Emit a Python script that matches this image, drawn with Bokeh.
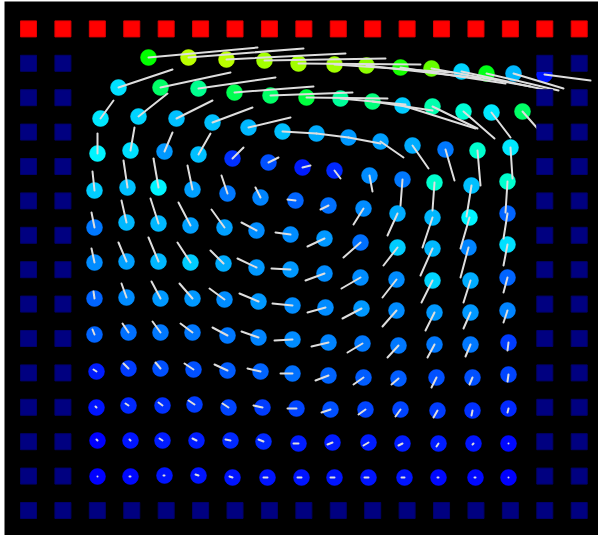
import colorsys
from bokeh.plotting import figure
from bokeh.models import Range1d, ColumnDataSource, LinearColorMapper
from bokeh.transform import transform
from bokeh.embed import file_html
from bokeh.resources import INLINE

# ---- lattice of boundary particles (index units) ----
n_cols = 17          # lattice columns 0..16
n_rows = 15          # lattice rows 0..14 (row 14 = moving lid)
spacing_x = 34.42
spacing_y = 34.4
wall_cols = [0, 1, 15, 16]   # side walls (two layers each)
floor_rows = [0]             # bottom wall
lid_row = 14

# ---- fluid particles: position (x, y), velocity segment end (x_end, y_end), speed ----
x = [
    120, 160, 198, 236, 270, 306, 338, 372, 403, 433, 458, 485, 516,
    90, 132, 170, 206, 242, 278, 312, 344, 374, 404, 435, 463, 494,
    72, 110, 148, 184, 220, 254, 288, 320, 352, 384, 417, 449, 482,
    69, 102, 136, 170, 204, 240, 274, 306, 341, 374, 406, 443, 479,
    66, 99, 130, 164, 199, 232, 267, 300, 335, 369, 404, 441, 479,
    66, 98, 130, 162, 196, 228, 262, 296, 332, 369, 404, 440, 479,
    66, 98, 130, 162, 195, 228, 262, 296, 332, 368, 404, 442, 479,
    66, 98, 132, 164, 196, 230, 264, 297, 333, 368, 406, 442, 479,
    66, 100, 132, 164, 199, 230, 264, 300, 334, 370, 406, 442, 480,
    68, 100, 132, 165, 199, 232, 264, 300, 335, 370, 408, 444, 480,
    68, 100, 134, 166, 200, 234, 268, 302, 337, 372, 409, 444, 480,
    69, 102, 134, 168, 202, 235, 270, 304, 340, 374, 410, 445, 480,
    69, 102, 136, 170, 204, 239, 273, 306, 340, 376, 410, 447, 480,
]
y = [
    453, 453, 451, 450, 447, 446, 445, 443, 442, 439, 437, 437, 436,
    423, 423, 422, 418, 415, 413, 412, 409, 405, 404, 399, 398, 399,
    392, 394, 392, 388, 383, 379, 377, 373, 369, 365, 361, 360, 363,
    357, 360, 359, 356, 352, 348, 343, 340, 335, 331, 328, 325, 329,
    320, 323, 323, 321, 317, 313, 310, 305, 302, 297, 293, 293, 297,
    283, 288, 287, 285, 283, 280, 276, 272, 268, 263, 262, 263, 266,
    248, 249, 249, 248, 247, 243, 241, 237, 233, 231, 230, 230, 233,
    212, 213, 212, 212, 211, 209, 205, 203, 202, 200, 198, 198, 200,
    176, 178, 178, 178, 175, 173, 171, 168, 167, 165, 166, 166, 168,
    139, 142, 142, 141, 140, 139, 137, 135, 133, 132, 133, 133, 136,
    103, 105, 105, 106, 103, 103, 102, 101, 101, 101, 100, 100, 102,
    70, 70, 70, 70, 70, 69, 67, 68, 68, 67, 67, 67, 67,
    34, 34, 35, 35, 33, 33, 33, 33, 33, 33, 33, 33, 33,
]
x_end = [
    229, 275, 317, 357, 392, 424, 452, 477, 502, 520, 530, 535, 562,
    144, 202, 247, 285, 324, 359, 377, 404, 447, 449, 466, 482, 509,
    85, 139, 184, 224, 262, 288, 320, 352, 375, 400, 426, 452, 484,
    69, 106, 144, 182, 215, 250, 282, 312, 344, 372, 404, 438, 477,
    64, 95, 125, 159, 193, 227, 259, 292, 325, 359, 394, 432, 475,
    63, 93, 122, 150, 183, 213, 247, 279, 315, 355, 392, 432, 475,
    63, 90, 120, 149, 182, 209, 243, 277, 313, 354, 393, 435, 475,
    65, 93, 123, 151, 181, 211, 244, 279, 314, 354, 397, 435, 475,
    64, 94, 124, 152, 184, 213, 246, 283, 319, 359, 399, 437, 479,
    65, 95, 127, 156, 186, 219, 252, 287, 325, 363, 403, 441, 479,
    67, 97, 130, 160, 194, 225, 259, 293, 330, 367, 405, 443, 479,
    68, 101, 131, 164, 197, 230, 265, 299, 335, 370, 408, 444, 480,
    69, 101, 135, 167, 201, 235, 269, 302, 336, 373, 409, 446, 480,
]
y_end = [
    463, 462, 457, 452, 446, 438, 432, 427, 424, 420, 420, 422, 430,
    441, 438, 433, 424, 418, 412, 406, 400, 382, 382, 372, 373, 382,
    410, 417, 410, 403, 393, 377, 373, 367, 353, 342, 330, 325, 332,
    377, 383, 378, 377, 363, 353, 345, 332, 319, 305, 300, 294, 298,
    339, 350, 352, 345, 335, 323, 311, 301, 286, 275, 263, 262, 272,
    298, 310, 312, 308, 301, 288, 278, 264, 253, 245, 235, 233, 245,
    262, 268, 273, 268, 260, 252, 242, 230, 222, 213, 208, 208, 218,
    219, 227, 229, 227, 222, 217, 207, 198, 192, 184, 180, 182, 188,
    181, 187, 189, 187, 183, 179, 170, 164, 158, 153, 153, 154, 160,
    141, 147, 148, 147, 146, 142, 137, 130, 126, 126, 123, 126, 129,
    104, 107, 108, 110, 107, 105, 102, 98, 96, 94, 93, 95, 98,
    71, 71, 72, 72, 71, 71, 67, 66, 65, 65, 64, 66, 67,
    34, 34, 35, 36, 34, 33, 33, 33, 33, 33, 33, 33, 33,
]
speed = [
    0.50, 0.68, 0.68, 0.66, 0.66, 0.66, 0.64, 0.52, 0.60, 0.21, 0.48, 0.18, 0.02,
    0.22, 0.40, 0.36, 0.42, 0.40, 0.44, 0.35, 0.38, 0.20, 0.33, 0.29, 0.23, 0.40,
    0.23, 0.21, 0.19, 0.19, 0.18, 0.19, 0.17, 0.15, 0.16, 0.17, 0.12, 0.30, 0.23,
    0.24, 0.22, 0.15, 0.19, 0.05, 0.08, 0.03, 0.04, 0.14, 0.12, 0.30, 0.19, 0.30,
    0.20, 0.19, 0.24, 0.16, 0.12, 0.13, 0.10, 0.11, 0.14, 0.17, 0.18, 0.24, 0.10,
    0.12, 0.18, 0.18, 0.16, 0.16, 0.14, 0.14, 0.15, 0.11, 0.20, 0.18, 0.13, 0.22,
    0.14, 0.16, 0.18, 0.20, 0.17, 0.15, 0.15, 0.14, 0.14, 0.14, 0.21, 0.17, 0.10,
    0.10, 0.14, 0.15, 0.15, 0.14, 0.15, 0.14, 0.14, 0.15, 0.14, 0.15, 0.15, 0.13,
    0.10, 0.11, 0.12, 0.12, 0.12, 0.13, 0.14, 0.13, 0.12, 0.12, 0.12, 0.12, 0.06,
    0.03, 0.06, 0.08, 0.08, 0.09, 0.10, 0.11, 0.10, 0.09, 0.09, 0.08, 0.08, 0.07,
    0.02, 0.04, 0.05, 0.06, 0.07, 0.06, 0.07, 0.08, 0.07, 0.07, 0.06, 0.05, 0.04,
    0.00, 0.02, 0.03, 0.03, 0.04, 0.04, 0.03, 0.03, 0.03, 0.03, 0.03, 0.02, 0.01,
    0.00, 0.01, 0.02, 0.02, 0.02, 0.02, 0.02, 0.02, 0.02, 0.02, 0.01, 0.01, 0.00,
]

# ---- colour map: hue ramp blue -> cyan -> green -> yellow -> red ----
palette = []
for k in range(256):
    h = (240.0 - 240.0 * k / 255.0) / 360.0
    r, g, b = colorsys.hsv_to_rgb(h, 1.0, 1.0)
    palette.append("#%02x%02x%02x" % (int(round(r * 255)), int(round(g * 255)), int(round(b * 255))))
mapper = LinearColorMapper(palette=palette, low=0.0, high=1.0)

# ---- boundary particles ----
wall_x, wall_y = [], []
for j in range(n_rows - 1):
    for i in wall_cols:
        wall_x.append(i * spacing_x)
        wall_y.append(j * spacing_y)
for j in floor_rows:
    for i in range(n_cols):
        if i not in wall_cols:
            wall_x.append(i * spacing_x)
            wall_y.append(j * spacing_y)
lid_x = [i * spacing_x for i in range(n_cols)]
lid_y = [lid_row * spacing_y for _ in range(n_cols)]

p = figure(width=598, height=535, x_range=Range1d(-24, 570), y_range=Range1d(-25, 509),
           output_backend="svg", toolbar_location=None,
           min_border_left=4, min_border_top=1, min_border_right=0, min_border_bottom=0,
           background_fill_color="black", border_fill_color="white")
p.outline_line_color = None
p.axis.visible = False
p.xgrid.visible = False
p.ygrid.visible = False

src = ColumnDataSource(dict(x=x, y=y, x_end=x_end, y_end=y_end, speed=speed))
p.scatter("x", "y", source=src, marker="circle", size=16,
          fill_color=transform("speed", mapper), line_color=transform("speed", mapper), line_width=0.5)
p.segment("x", "y", "x_end", "y_end", source=src, line_color="#dedede", line_width=2, line_cap="round")

p.scatter(wall_x, wall_y, marker="square", size=16, fill_color="#000080", line_color="#00006a", line_width=1)
p.scatter(lid_x, lid_y, marker="square", size=16, fill_color="#ff0000", line_color="#dd0000", line_width=1)

open("out.html", "w").write(file_html(p, INLINE))
